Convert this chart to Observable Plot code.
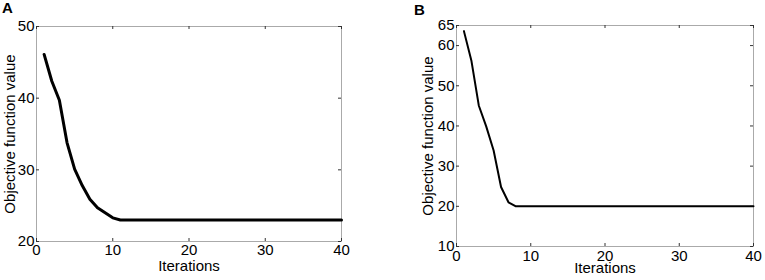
<!DOCTYPE html>
<html><head><meta charset="utf-8">
<script src="https://cdn.jsdelivr.net/npm/d3@7"></script>
<script src="https://cdn.jsdelivr.net/npm/@observablehq/plot@0.6"></script>
<style>
body{margin:0;background:#fff;font-family:"Liberation Sans",Arial,sans-serif;}
#wrap{position:relative;width:765px;height:280px;overflow:hidden;}
.panel{position:absolute;top:0;}
.tag{position:absolute;font-weight:bold;font-size:15px;line-height:15px;color:#000;}
</style></head><body>
<div id="wrap">
  <div class="panel" id="pa" style="left:0px"></div>
  <div class="panel" id="pb" style="left:385px"></div>
  <div class="tag" style="left:2px;top:0px">A</div>
  <div class="tag" style="left:414px;top:2px">B</div>
</div>
<script>
const iterations = [1,2,3,4,5,6,7,8,9,10,11,12,13,14,15,16,17,18,19,20,21,22,23,24,25,26,27,28,29,30,31,32,33,34,35,36,37,38,39,40];
const valuesA = [46.1,42.4,39.7,33.8,30.1,27.8,25.9,24.7,24.0,23.3,23.0,23.0,23.0,23.0,23.0,23.0,23.0,23.0,23.0,23.0,23.0,23.0,23.0,23.0,23.0,23.0,23.0,23.0,23.0,23.0,23.0,23.0,23.0,23.0,23.0,23.0,23.0,23.0,23.0,23.0];
const valuesB = [63.6,56.3,45.1,39.9,33.9,24.8,21.0,20.0,20.0,20.0,20.0,20.0,20.0,20.0,20.0,20.0,20.0,20.0,20.0,20.0,20.0,20.0,20.0,20.0,20.0,20.0,20.0,20.0,20.0,20.0,20.0,20.0,20.0,20.0,20.0,20.0,20.0,20.0,20.0,20.0];
const xTicks = [0,10,20,30,40];
const yTicksA = [20,30,40,50];
const yTicksB = [10,20,30,40,50,60,65];
const xLabel = "Iterations";
const yLabel = "Objective function value";

function panel({values, yDomain, yTicks, width, mL, mR, mT, mB, lineW, xPad, yLabelDx, xLabelDy}) {
  const data = iterations.map((x, i) => ({x, y: values[i]}));
  const h = 280 - mT - mB, w = width - mL - mR;
  const tl = 3;
  return Plot.plot({
    width, height: 280,
    marginLeft: mL, marginRight: mR, marginTop: mT, marginBottom: mB,
    style: {fontFamily: "Liberation Sans, Arial, sans-serif", fontSize: "15px", color: "#000", background: "#fff", overflow: "visible"},
    x: {domain: [0, 40]},
    y: {domain: yDomain},
    marks: [
      Plot.frame({stroke: "#aaa", strokeWidth: 1}),
      Plot.tickX(xTicks, {x: d => d, insetTop: h - tl, stroke: "#333"}),
      Plot.tickX(xTicks, {x: d => d, insetBottom: h - tl, stroke: "#333"}),
      Plot.tickY(yTicks, {y: d => d, insetRight: w - tl, stroke: "#333"}),
      Plot.tickY(yTicks, {y: d => d, insetLeft: w - tl, stroke: "#333"}),
      Plot.axisX({ticks: xTicks, tickSize: 0, tickPadding: xPad, tickFormat: d => d, fontSize: 15, label: null}),
      Plot.axisY({ticks: yTicks, tickSize: 0, tickPadding: 2, tickFormat: d => d, fontSize: 15, label: null}),
      Plot.lineY(data, {x: "x", y: "y", stroke: "#000", strokeWidth: lineW, strokeLinejoin: "round"}),
      Plot.text([xLabel], {text: d => d, frameAnchor: "bottom", dy: xLabelDy, fontSize: 15, textAnchor: "middle"}),
      Plot.text([yLabel], {text: d => d, frameAnchor: "left", rotate: -90, dx: yLabelDx, fontSize: 15, textAnchor: "middle"})
    ]
  });
}

document.getElementById("pa").append(panel({
  values: valuesA, yDomain: [20, 50], yTicks: yTicksA, width: 385,
  mL: 36, mR: 44, mT: 26, mB: 39, lineW: 3, xPad: 3, yLabelDx: -26, xLabelDy: 29
}));
document.getElementById("pb").append(panel({
  values: valuesB, yDomain: [10, 65], yTicks: yTicksB, width: 380,
  mL: 71, mR: 12, mT: 25, mB: 34, lineW: 2, xPad: 4, yLabelDx: -28, xLabelDy: 26
}));
</script>
</body></html>
